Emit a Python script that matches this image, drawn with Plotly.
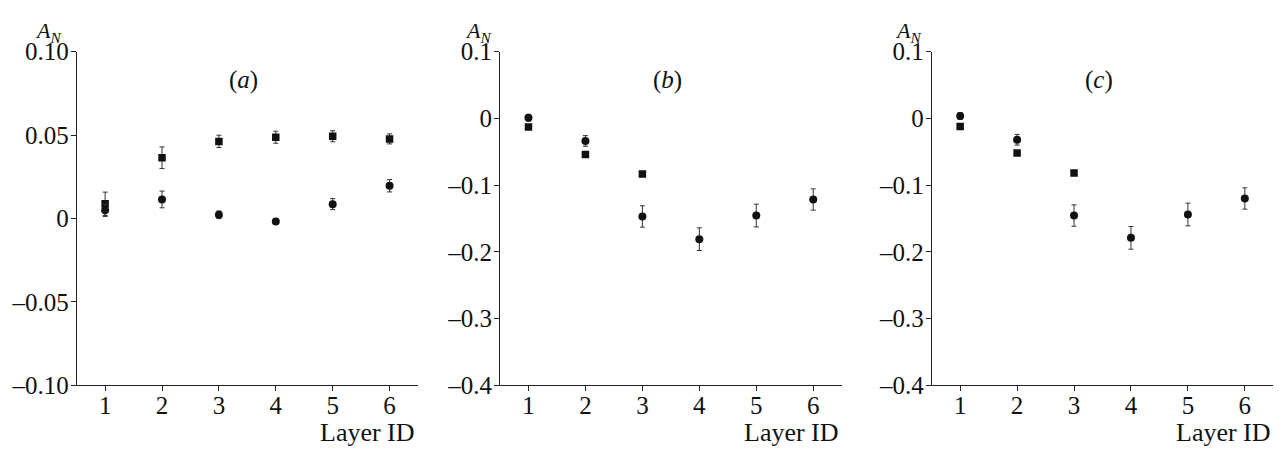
import plotly.graph_objects as go

layers = [1, 2, 3, 4, 5, 6]

# Panel (a)
a_sq = [0.0088, 0.0364, 0.0462, 0.0487, 0.0493, 0.0477]
a_sq_err = [0.007, 0.0065, 0.0037, 0.0036, 0.0033, 0.003]
a_ci = [0.0049, 0.0114, 0.0022, -0.0018, 0.0086, 0.0196]
a_ci_err = [0.0037, 0.005, 0.0023, 0.0015, 0.0033, 0.0037]

# Panel (b)
b_ci = [0.001, -0.0338, -0.147, -0.181, -0.1456, -0.1216]
b_ci_err = [0.005, 0.008, 0.016, 0.017, 0.017, 0.016]
b_sq_x = [1, 2, 3]
b_sq = [-0.013, -0.054, -0.0833]

# Panel (c)
c_ci = [0.0034, -0.032, -0.1456, -0.179, -0.144, -0.120]
c_ci_err = [0.005, 0.008, 0.016, 0.017, 0.017, 0.016]
c_sq_x = [1, 2, 3]
c_sq = [-0.012, -0.052, -0.082]

a_ticks = [0.10, 0.05, 0, -0.05, -0.10]
a_ticktext = ["0.10", "0.05", "0", "–0.05", "–0.10"]
bc_ticks = [0.1, 0, -0.1, -0.2, -0.3, -0.4]
bc_ticktext = ["0.1", "0", "–0.1", "–0.2", "–0.3", "–0.4"]
panel_labels = ["(<i>a</i>)", "(<i>b</i>)", "(<i>c</i>)"]

FONT = "Liberation Serif"
FS = 25
MK = "#111111"
ERRC = "#333333"

fig = go.Figure()

def add_points(xs, ys, errs, symbol, size, ax):
    err = dict(type="data", array=errs, visible=True, color=ERRC, thickness=1, width=2.5) if errs else dict(visible=False)
    fig.add_trace(go.Scatter(
        x=xs, y=ys, mode="markers", error_y=err,
        marker=dict(symbol=symbol, size=size, color=MK),
        xaxis=ax[0], yaxis=ax[1], showlegend=False))

add_points(layers, a_sq, a_sq_err, "square", 7.5, ("x", "y"))
add_points(layers, a_ci, a_ci_err, "circle", 8, ("x", "y"))
add_points(b_sq_x, b_sq, None, "square", 7.5, ("x2", "y2"))
add_points(layers, b_ci, b_ci_err, "circle", 8, ("x2", "y2"))
add_points(c_sq_x, c_sq, None, "square", 7.5, ("x3", "y3"))
add_points(layers, c_ci, c_ci_err, "circle", 8, ("x3", "y3"))

W, H = 1282, 453
# the page shows the figure at (8, 17) with a 435 px tall drawing area
OX, OY, PH = 8, 17, 435

def px(X):
    return (X - OX) / W

def py(Y):
    return 1 - (Y - OY) / PH

xdoms = [[px(76.7), px(418)], [px(500), px(841.7)], [px(931.7), px(1273.3)]]
ydom = [py(389), py(48.3)]

def xaxis(dom, anchor):
    return dict(domain=dom, anchor=anchor, range=[0.5, 6.5], tickvals=layers,
                ticktext=[str(v) for v in layers], showline=True, linecolor="#222",
                linewidth=1, ticks="outside", ticklen=5, tickcolor="#222",
                showgrid=False, zeroline=False, ticklabelstandoff=-7,
                tickfont=dict(family=FONT, size=FS, color="#111"))

def yaxis(rng, tv, tt, anchor):
    return dict(domain=ydom, anchor=anchor, range=rng, tickvals=tv, ticktext=tt,
                showline=True, linecolor="#222", linewidth=1, ticks="outside",
                ticklen=5, tickcolor="#222", showgrid=False, zeroline=False,
                ticklabelstandoff=-3,
                tickfont=dict(family=FONT, size=FS, color="#111"))

annotations = []
an_x = [48, 478, 908]
lab_x = [243, 667, 1099]
layer_x = [416.7, 840.7, 1272.7]
for i in range(3):
    annotations.append(dict(text="<i>A<sub>N</sub></i>", x=px(an_x[i]), y=1, xref="paper",
                            yref="paper", showarrow=False, xanchor="center", yanchor="top",
                            borderpad=0, yshift=4,
                            font=dict(family=FONT, size=22, color="#111")))
    annotations.append(dict(text=panel_labels[i], x=px(lab_x[i]), y=py(77), xref="paper",
                            yref="paper", showarrow=False, xanchor="center", yanchor="middle",
                            font=dict(family=FONT, size=FS, color="#111")))
    annotations.append(dict(text="Layer ID", x=px(layer_x[i]), y=py(437), xref="paper",
                            yref="paper", showarrow=False, xanchor="right", yanchor="middle",
                            font=dict(family=FONT, size=FS + 1, color="#111")))

fig.update_layout(
    width=W, height=H, margin=dict(l=0, r=0, t=0, b=0),
    paper_bgcolor="white", plot_bgcolor="white",
    xaxis=xaxis(xdoms[0], "y"), yaxis=yaxis([-0.1, 0.1], a_ticks, a_ticktext, "x"),
    xaxis2=xaxis(xdoms[1], "y2"), yaxis2=yaxis([-0.4, 0.1], bc_ticks, bc_ticktext, "x2"),
    xaxis3=xaxis(xdoms[2], "y3"), yaxis3=yaxis([-0.4, 0.1], bc_ticks, bc_ticktext, "x3"),
    annotations=annotations,
)

fig.write_html("out.html")
